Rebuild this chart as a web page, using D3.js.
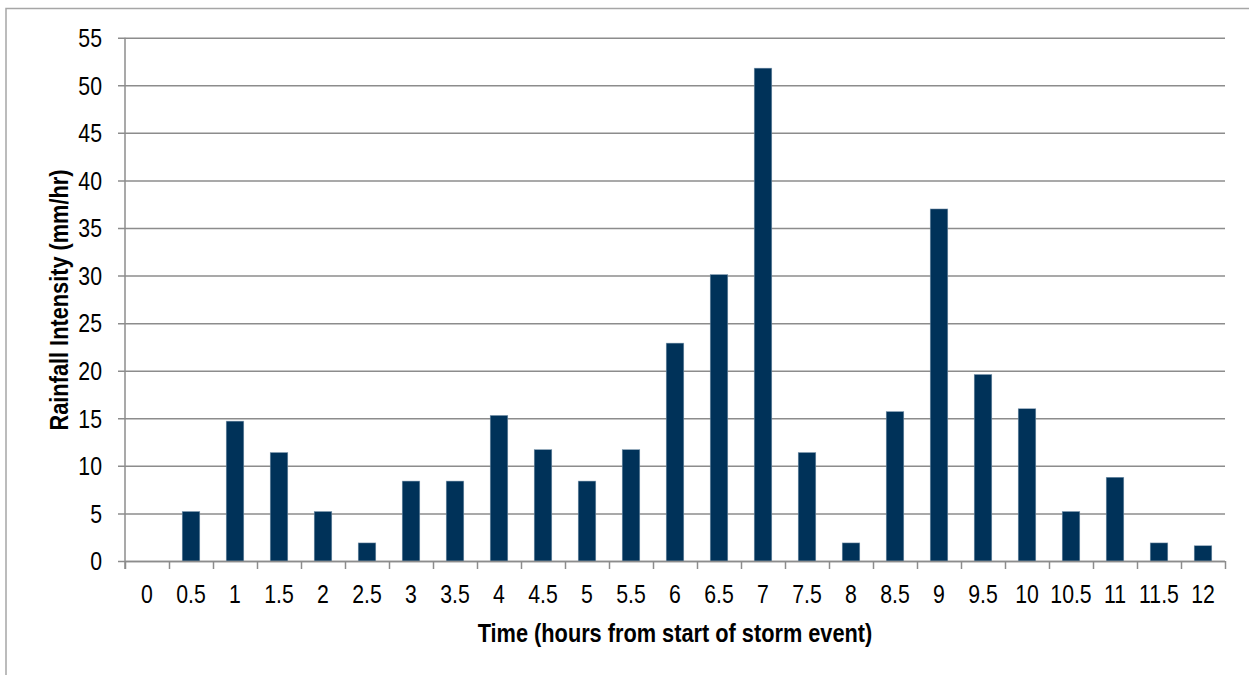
<!DOCTYPE html>
<html><head><meta charset="utf-8">
<script src="https://cdn.jsdelivr.net/npm/d3@7"></script>
<style>
html,body{margin:0;padding:0;background:#fff;}
svg{display:block;}
text{font-family:"Liberation Sans",Arial,sans-serif;fill:#000;}
</style></head>
<body>
<svg id="chart" width="1249" height="675"></svg>
<script>
const categories = ["0","0.5","1","1.5","2","2.5","3","3.5","4","4.5","5","5.5","6","6.5","7","7.5","8","8.5","9","9.5","10","10.5","11","11.5","12"];
const rainfall = [0,5.2,14.7,11.4,5.2,1.9,8.4,8.4,15.3,11.7,8.4,11.7,22.9,30.1,51.8,11.4,1.9,15.7,37.0,19.6,16.0,5.2,8.8,1.9,1.6];
const yTicks = [0,5,10,15,20,25,30,35,40,45,50,55];
const xTitle = "Time (hours from start of storm event)";
const yTitle = "Rainfall Intensity (mm/hr)";

const svg = d3.select("#chart");
const L = 125, R = 1225, T = 37.7, B = 561;
const gridColor = "#8c8c8c";
const sx = 0.85;

// outer frame
svg.append("rect").attr("x",6).attr("y",8.5).attr("width",1260).attr("height",700)
  .attr("fill","none").attr("stroke","#a6a6a6").attr("stroke-width",1.5);

const x = d3.scaleBand().domain(categories).range([L,R]).paddingInner(0.6).paddingOuter(0.3);
const y = d3.scaleLinear().domain([0,55]).range([B,T]);
const xi = d3.scaleLinear().domain([0,categories.length]).range([L,R]);

// y axis with gridlines
const gy = svg.append("g").attr("transform",`translate(${L},0)`)
  .call(d3.axisLeft(y).tickValues(yTicks).tickSizeInner(-(R-L)).tickSizeOuter(0).tickPadding(0).tickFormat(d3.format("d")));
gy.select(".domain").remove();
gy.selectAll(".tick line").attr("x1",-7).attr("stroke",gridColor).attr("stroke-width",1.5);
gy.selectAll(".tick text").attr("x",-23/sx).attr("dy","0.35em").attr("transform",`scale(${sx},1)`).style("font-size","25px");

// y axis line
svg.append("line").attr("x1",L).attr("x2",L).attr("y1",T).attr("y2",B+8)
  .attr("stroke",gridColor).attr("stroke-width",1.5);

// bars
svg.append("g").selectAll("rect").data(rainfall).join("rect")
  .attr("x",(d,i)=>x(categories[i]))
  .attr("width",x.bandwidth())
  .attr("y",d=>y(d))
  .attr("height",d=>B-y(d))
  .attr("fill","#003259")
  .attr("stroke","#7f99b0").attr("stroke-width",0.5);

// x axis baseline and boundary ticks
const gxt = svg.append("g").attr("transform",`translate(0,${B})`)
  .call(d3.axisBottom(xi).tickValues(d3.range(categories.length+1)).tickSize(8).tickFormat(""));
gxt.select(".domain").attr("stroke",gridColor).attr("stroke-width",1.5).attr("d",`M${L},0.5H${R}`);
gxt.selectAll(".tick line").attr("stroke",gridColor).attr("stroke-width",1.5);

// x labels
const gx = svg.append("g").attr("transform",`translate(0,${B})`)
  .call(d3.axisBottom(x).tickSize(0).tickPadding(0));
gx.select(".domain").remove();
gx.selectAll(".tick text").attr("y",42).attr("dy",0).attr("transform",`scale(${sx},1)`).style("font-size","25px");

// titles
svg.append("g").attr("transform","translate(675,642) scale(0.87,1)")
  .append("text").attr("text-anchor","middle")
  .style("font-size","25px").style("font-weight","bold").text(xTitle);
svg.append("g").attr("transform","translate(68,300) rotate(-90) scale(0.87,1)")
  .append("text").attr("text-anchor","middle")
  .style("font-size","25px").style("font-weight","bold").text(yTitle);
</script>
</body></html>
